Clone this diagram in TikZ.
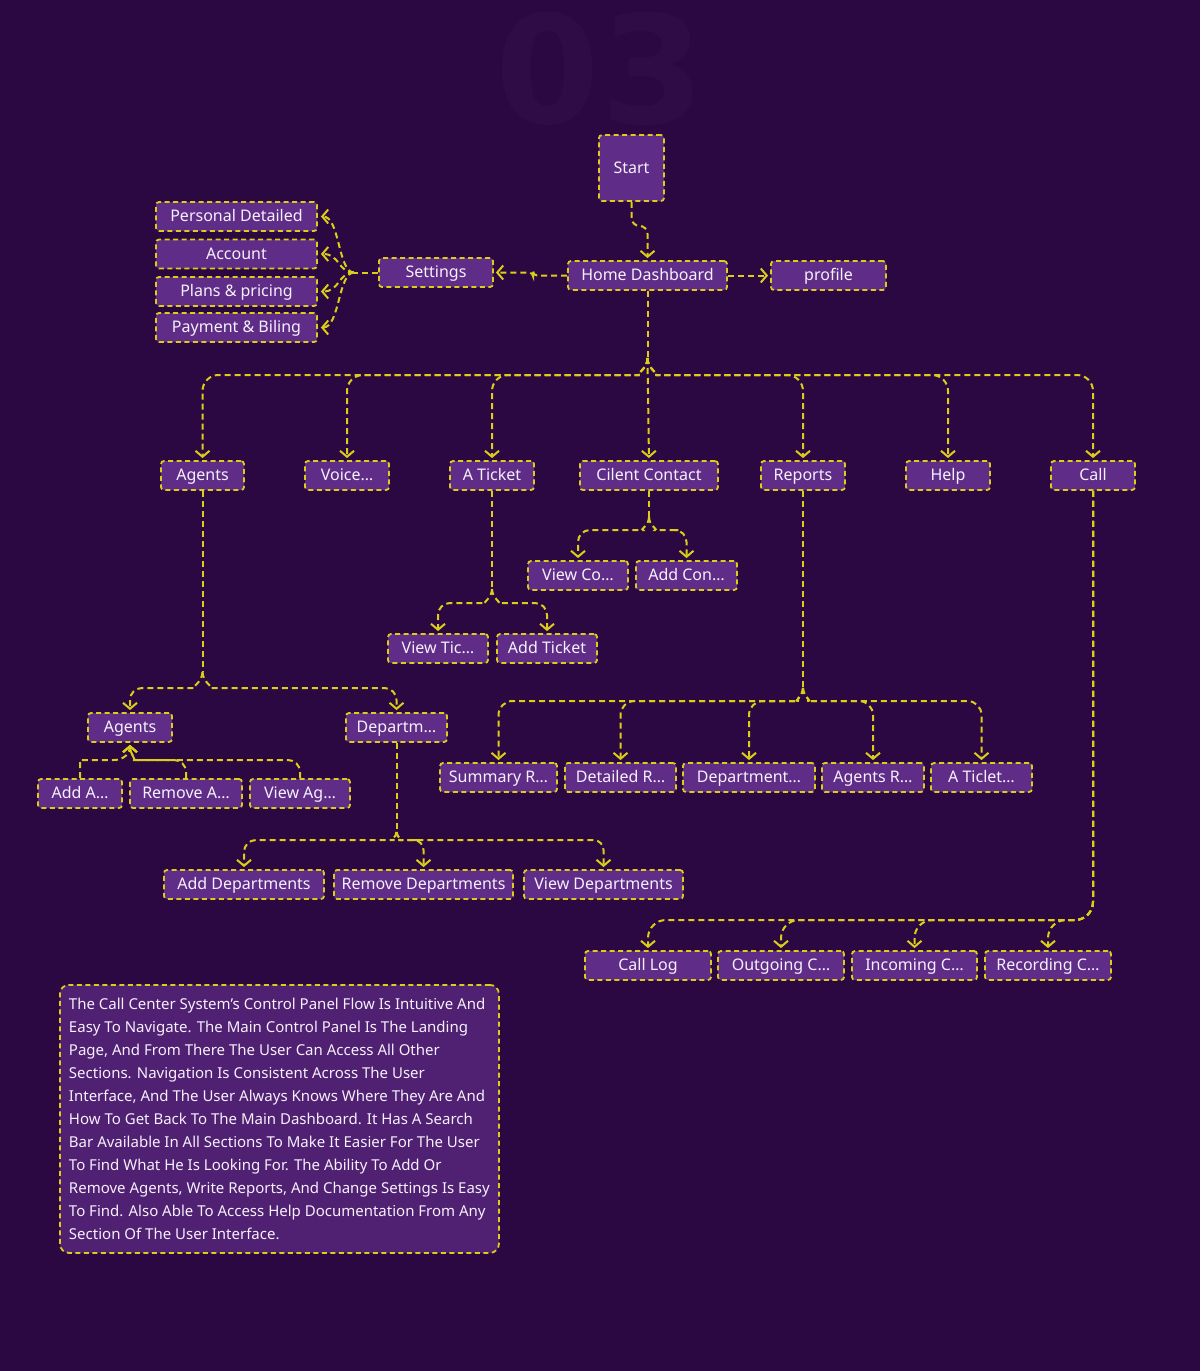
\documentclass[tikz,border=0pt]{standalone}
\usepackage{fontspec}
\setmainfont{Noto Sans}
\newfontfamily\markfont{DejaVu Sans}
\usepackage{xcolor}
\usepackage{tikz}
\usetikzlibrary{shapes.geometric, arrows.meta, positioning}
\definecolor{bgpurple}{RGB}{44,8,66}
\definecolor{boxpurple}{RGB}{95,45,135}
\definecolor{notepurple}{RGB}{80,32,114}
\definecolor{dashyellow}{RGB}{218,206,24}
\definecolor{markpurple}{RGB}{48,12,71}
\definecolor{boxtext}{RGB}{246,240,250}
\tikzstyle{link} = [line width=2pt, draw=dashyellow, dash pattern=on 6pt off 4pt]
\tikzstyle{arrow} = [link, -{Straight Barb[length=6pt,width=14pt,line width=2pt]}, shorten >=2pt]

\begin{document}
\begin{tikzpicture}[x=1pt, y=-1pt]
				% Define styles for the different elements of the flow
				\tikzstyle{box} = [rectangle, draw=dashyellow, line width=1.8pt, dash pattern=on 5pt off 3.5pt, rounded corners=3pt, fill=boxpurple, text=boxtext, font=\fontsize{16}{19}\selectfont, minimum height=29pt, text height=11.5pt, text depth=1.5pt, inner xsep=3pt, inner ysep=0pt]
				\tikzstyle{note} = [box, fill=notepurple, rounded corners=9pt, align=left, font=\fontsize{15}{23}\selectfont, text height=, text depth=, inner xsep=8pt]
				
				% Background and big number
				\fill[bgpurple] (0,0) rectangle (1200,1371);
				\node[font=\markfont\fontsize{150}{150}\selectfont\bfseries, text=markpurple, inner sep=0pt, text height=110pt, text depth=0pt] (mark) at (600,68) {03};
				
				% Start and dashboard
				\node[box, minimum width=65pt, minimum height=66pt] (start) at (631.5,168) {Start};
				\node[box, minimum width=159pt] (home) at (647.5,275.5) {Home Dashboard};
				\node[box, minimum width=115pt] (profile) at (828.5,275.5) {profile};
				
				% Settings
				\node[box, minimum width=114pt] (settings) at (436,272.5) {Settings};
				\node[box, minimum width=161pt] (personal) at (236.5,216.5) {Personal Detailed};
				\node[box, minimum width=161pt] (account) at (236.5,254) {Account};
				\node[box, minimum width=161pt] (plans) at (236.5,291.5) {Plans \& pricing};
				\node[box, minimum width=161pt] (payment) at (236.5,327.5) {Payment \& Biling};
				
				% Main sections
				\node[box, minimum width=83pt] (agents) at (202.5,475.5) {Agents};
				\node[box, minimum width=84pt] (voice) at (347,475.5) {Voice…};
				\node[box, minimum width=84pt] (aticket) at (492,475.5) {A Ticket};
				\node[box, minimum width=138pt] (contact) at (649,475.5) {Cilent Contact};
				\node[box, minimum width=84pt] (reports) at (803,475.5) {Reports};
				\node[box, minimum width=84pt] (help) at (948,475.5) {Help};
				\node[box, minimum width=84pt] (call) at (1093,475.5) {Call};
				
				% Client contact
				\node[box, minimum width=100pt] (viewcontact) at (578,575.5) {View Co…};
				\node[box, minimum width=101pt] (addcontact) at (686.5,575.5) {Add Con…};
				
				% Ticket
				\node[box, minimum width=100pt] (viewticket) at (438,648.5) {View Tic…};
				\node[box, minimum width=100pt] (addticket) at (547,648.5) {Add Ticket};
				
				% Agents
				\node[box, minimum width=84pt] (agentlist) at (130,727.5) {Agents};
				\node[box, minimum width=101pt] (departm) at (396.5,727.5) {Departm…};
				\node[box, minimum width=84pt] (addagent) at (80,793.5) {Add A…};
				\node[box, minimum width=112pt] (removeagent) at (186,793.5) {Remove A…};
				\node[box, minimum width=100pt] (viewagent) at (300,793.5) {View Ag…};
				\node[box, minimum width=160pt] (adddept) at (244,884.5) {Add Departments};
				\node[box, minimum width=179pt] (removedept) at (423.5,884.5) {Remove Departments};
				\node[box, minimum width=159pt] (viewdept) at (603.5,884.5) {View Departments};
				
				% Reports
				\node[box, minimum width=117pt] (summaryrep) at (498.5,777.5) {Summary R…};
				\node[box, minimum width=111pt] (detailedrep) at (620.5,777.5) {Detailed R…};
				\node[box, minimum width=132pt] (deptrep) at (749,777.5) {Department…};
				\node[box, minimum width=102pt] (agentsrep) at (873,777.5) {Agents R…};
				\node[box, minimum width=101pt] (ticketrep) at (981.5,777.5) {A Ticlet…};
				
				% Call
				\node[box, minimum width=126pt] (calllog) at (648,965.5) {Call Log};
				\node[box, minimum width=126pt] (outgoing) at (781,965.5) {Outgoing C…};
				\node[box, minimum width=125pt] (incoming) at (914.5,965.5) {Incoming C…};
				\node[box, minimum width=126pt] (recording) at (1048,965.5) {Recording C…};
				
				% Description
				\node[note, anchor=north west, minimum width=439pt, minimum height=268pt] (description) at (59,984) {
					The Call Center System's Control Panel Flow Is Intuitive And\\
					Easy To Navigate. The Main Control Panel Is The Landing\\
					Page, And From There The User Can Access All Other\\
					Sections. Navigation Is Consistent Across The User\\
					Interface, And The User Always Knows Where They Are And\\
					How To Get Back To The Main Dashboard. It Has A Search\\
					Bar Available In All Sections To Make It Easier For The User\\
					To Find What He Is Looking For. The Ability To Add Or\\
					Remove Agents, Write Reports, And Change Settings Is Easy\\
					To Find. Also Able To Access Help Documentation From Any\\
					Section Of The User Interface.
				};
				
				% Junctions
				\coordinate (setjoin) at (354,272.5);
				\coordinate (mainhub) at (647.5,358);
				\coordinate (contacthub) at (649,517);
				\coordinate (tickethub) at (492,589);
				\coordinate (agentshub) at (202.5,672);
				\coordinate (depthub) at (396.5,832);
				\coordinate (reportshub) at (803,688);
				\coordinate (callbus) at (0,920);
				
				% Draw the connectors
				\draw[arrow, rounded corners=8pt] (start.south) -- ++(0,24) -| (home.north);
				\draw[arrow] (home.east) -- (profile.west);
				\draw[arrow, rounded corners=4pt] (home.west) -- ++(-34,0) |- (settings.east);
				\draw[link] (settings.west) -- (setjoin);
				\foreach \n in {personal,account,plans,payment}
					\draw[arrow, shorten >=3pt] (setjoin) .. controls +(-16,0) and +(22,0) .. (\n.east);
				
				\draw[link] (home.south) -- (mainhub);
				\foreach \n in {agents,voice,aticket}
					\draw[arrow, rounded corners=16pt] (mainhub) .. controls +(0,12) and +(10,0) .. ++(-24,17) -| (\n.north);
				\foreach \n in {reports,help,call}
					\draw[arrow, rounded corners=16pt] (mainhub) .. controls +(0,12) and +(-10,0) .. ++(24,17) -| (\n.north);
				\draw[arrow] (mainhub) -- (contact.north);
				
				\draw[link] (contact.south) -- (contacthub);
				\draw[arrow, rounded corners=12pt] (contacthub) .. controls +(0,9) and +(8,0) .. ++(-18,13) -| (viewcontact.north);
				\draw[arrow, rounded corners=12pt] (contacthub) .. controls +(0,9) and +(-8,0) .. ++(18,13) -| (addcontact.north);
				
				\draw[link] (aticket.south) -- (tickethub);
				\draw[arrow, rounded corners=12pt] (tickethub) .. controls +(0,9) and +(8,0) .. ++(-18,14) -| (viewticket.north);
				\draw[arrow, rounded corners=12pt] (tickethub) .. controls +(0,9) and +(-8,0) .. ++(18,14) -| (addticket.north);
				
				\draw[link] (agents.south) -- (agentshub);
				\draw[arrow, rounded corners=12pt] (agentshub) .. controls +(0,10) and +(8,0) .. ++(-20,16) -| (agentlist.north);
				\draw[arrow, rounded corners=12pt] (agentshub) .. controls +(0,10) and +(-8,0) .. ++(20,16) -| (departm.north);
				\draw[arrow] (addagent.north) |- (114,760) .. controls +(10,0) and +(0,10) .. (agentlist.south);
				\foreach \n in {removeagent,viewagent}
					\draw[arrow, rounded corners=12pt] (\n.north) |- (146,760) .. controls +(-10,0) and +(0,10) .. (agentlist.south);
				
				\draw[link] (departm.south) -- (depthub);
				\draw[arrow, rounded corners=12pt] (depthub) .. controls +(0,6) and +(6,0) .. ++(-14,8) -| (adddept.north);
				\foreach \n in {removedept,viewdept}
					\draw[arrow, rounded corners=10pt] (depthub) .. controls +(0,6) and +(-4,0) .. ++(12,8) -| (\n.north);
				
				\draw[link] (reports.south) -- (reportshub);
				\foreach \n in {summaryrep,detailedrep,deptrep}
					\draw[arrow, rounded corners=14pt] (reportshub) .. controls +(0,9) and +(8,0) .. ++(-18,13) -| (\n.north);
				\foreach \n in {agentsrep,ticketrep}
					\draw[arrow, rounded corners=14pt] (reportshub) .. controls +(0,9) and +(-8,0) .. ++(18,13) -| (\n.north);
				
				\foreach \n in {calllog,outgoing,incoming,recording}
					\draw[arrow, rounded corners=18pt] (call.south) |- (\n.north |- callbus) -- (\n.north);
\end{tikzpicture}
\end{document}
